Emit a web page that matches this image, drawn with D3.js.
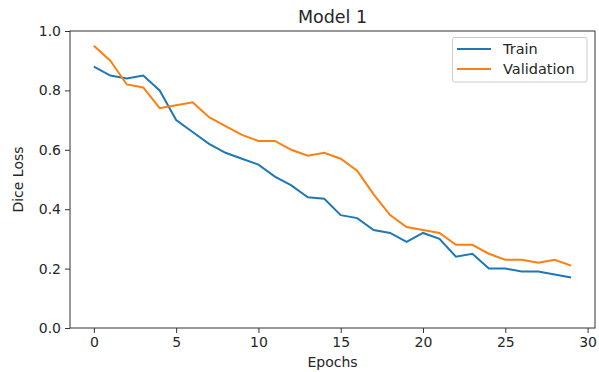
<!DOCTYPE html>
<html><head><meta charset="utf-8">
<script src="https://cdn.jsdelivr.net/npm/d3@7"></script>
<style>body{margin:0;background:#fff}svg{display:block}text{font-family:"DejaVu Sans",sans-serif;fill:#262626}</style>
</head><body>
<svg id="c" width="599" height="372"></svg>
<script>
const epochs = d3.range(0, 30);
const train = [0.88,0.85,0.84,0.85,0.80,0.70,0.66,0.62,0.59,0.57,0.55,0.51,0.48,0.44,0.435,0.38,0.37,0.33,0.32,0.29,0.32,0.30,0.24,0.25,0.20,0.20,0.19,0.19,0.18,0.17];
const validation = [0.95,0.90,0.82,0.81,0.74,0.75,0.76,0.71,0.68,0.65,0.63,0.63,0.60,0.58,0.59,0.57,0.53,0.45,0.38,0.34,0.33,0.32,0.28,0.28,0.25,0.23,0.23,0.22,0.23,0.21];
const xTicks = [0,5,10,15,20,25,30];
const yTicks = [0.0,0.2,0.4,0.6,0.8,1.0];
const seriesNames = ["Train","Validation"];
const colors = ["#1f77b4","#ff7f0e"];

const svg = d3.select("#c");
const L=70, R=595, T=31, B=328;
const x = d3.scaleLinear().domain([-1.45,30.45]).range([L,R]);
const y = d3.scaleLinear().domain([0,1]).range([B,T]);

const xa = svg.append("g").attr("transform",`translate(0,${B})`)
  .call(d3.axisBottom(x).tickValues(xTicks).tickFormat(d3.format("d")).tickSize(5).tickPadding(4));
const ya = svg.append("g").attr("transform",`translate(${L},0)`)
  .call(d3.axisLeft(y).tickValues(yTicks).tickFormat(d3.format(".1f")).tickSize(5).tickPadding(4));
[xa,ya].forEach(a=>{a.select(".domain").remove();a.selectAll("line").attr("stroke","#333");a.selectAll("text").style("font-size","14px").attr("fill","#262626");});

svg.append("rect").attr("x",L).attr("y",T).attr("width",R-L).attr("height",B-T)
  .attr("fill","none").attr("stroke","#333").attr("stroke-width",1);

const line = d3.line().x((d,i)=>x(epochs[i])).y(d=>y(d));
[train,validation].forEach((s,k)=>{
  svg.append("path").datum(s).attr("d",line).attr("fill","none")
    .attr("stroke",colors[k]).attr("stroke-width",2);
});

svg.append("text").attr("x",(L+R)/2).attr("y",23).attr("text-anchor","middle").style("font-size","17.5px").text("Model 1");
svg.append("text").attr("x",(L+R)/2).attr("y",367).attr("text-anchor","middle").style("font-size","14px").text("Epochs");
svg.append("text").attr("transform",`translate(23,${(T+B)/2}) rotate(-90)`).attr("text-anchor","middle").style("font-size","14px").text("Dice Loss");

const lg = svg.append("g");
lg.append("rect").attr("x",452.5).attr("y",37.5).attr("width",134.5).attr("height",44.5).attr("rx",2)
  .attr("fill","#fff").attr("fill-opacity",0.8).attr("stroke","#ccc");
seriesNames.forEach((n,k)=>{
  const yy = 49 + k*20;
  lg.append("line").attr("x1",457).attr("x2",491).attr("y1",yy).attr("y2",yy).attr("stroke",colors[k]).attr("stroke-width",2);
  lg.append("text").attr("x",503).attr("y",yy+5).style("font-size","14.5px").text(n);
});
</script>
</body></html>
